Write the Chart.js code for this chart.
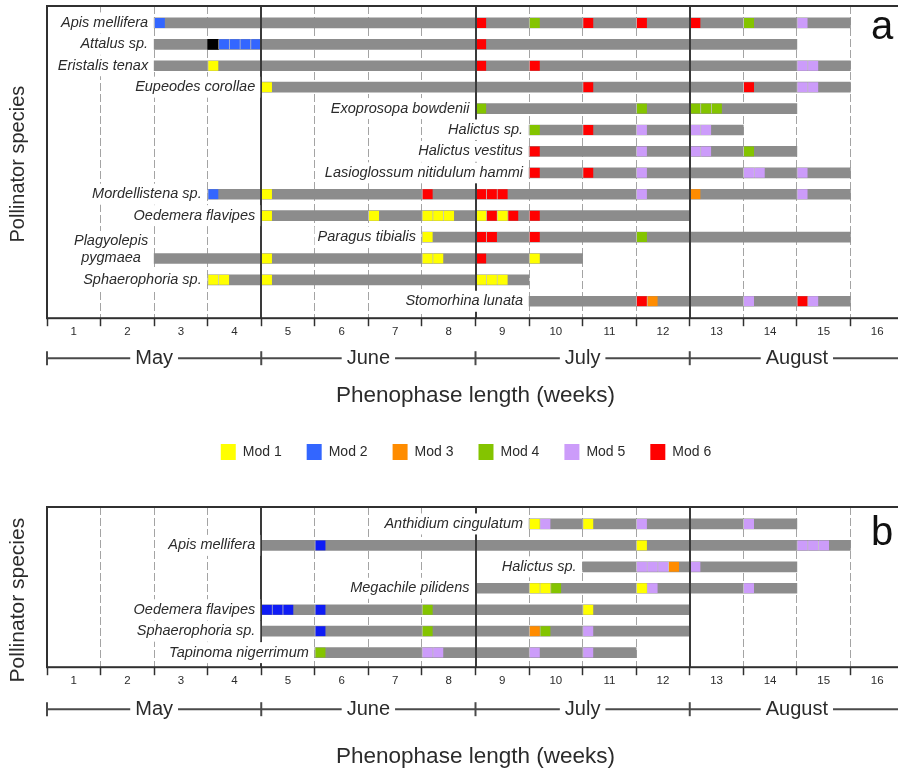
<!DOCTYPE html>
<html lang="en">
<head>
<meta charset="utf-8">
<title>Pollinator phenophases</title>
<script src="https://cdn.jsdelivr.net/npm/chart.js@4.4.1/dist/chart.umd.min.js"></script>
<style>
  html, body { margin: 0; padding: 0; background: #fff; width: 898px; height: 776px; overflow: hidden; }
  canvas { position: absolute; left: 0; }
  #panelA { top: 0; }
  #panelB { top: 494px; }
</style>
</head>
<body>
<canvas id="panelA" width="920" height="470"></canvas>
<canvas id="panelB" width="920" height="282"></canvas>
<script>
// ---------- data ----------
const weekLabels = ['1', '2', '3', '4', '5', '6', '7', '8', '9', '10', '11', '12', '13', '14', '15', '16'];
const monthLabels = ['May', 'June', 'July', 'August'];
const modLabels = ['Mod 1', 'Mod 2', 'Mod 3', 'Mod 4', 'Mod 5', 'Mod 6'];

// Network a: species, activity period [from week, to week], and module cells [day (5 per week), module; 0 = unassigned]
const speciesA = ['Apis mellifera', 'Attalus sp.', 'Eristalis tenax', 'Eupeodes corollae', 'Exoprosopa bowdenii',
  'Halictus sp.', 'Halictus vestitus', 'Lasioglossum nitidulum hammi', 'Mordellistena sp.', 'Oedemera flavipes',
  'Paragus tibialis', 'Plagyolepis\npygmaea', 'Sphaerophoria sp.', 'Stomorhina lunata'];
const periodA = [[2, 15], [2, 14], [2, 15], [4, 15], [8, 14], [9, 13], [9, 14], [9, 15], [3, 15], [4, 12], [7, 15], [2, 10], [3, 9], [9, 15]];
const cellsA = [
  [[10, 2], [40, 6], [45, 4], [50, 6], [55, 6], [60, 6], [65, 4], [70, 5]],
  [[15, 0], [16, 2], [17, 2], [18, 2], [19, 2], [40, 6]],
  [[15, 1], [40, 6], [45, 6], [70, 5], [71, 5]],
  [[20, 1], [50, 6], [65, 6], [70, 5], [71, 5]],
  [[40, 4], [55, 4], [60, 4], [61, 4], [62, 4]],
  [[45, 4], [50, 6], [55, 5], [60, 5], [61, 5]],
  [[45, 6], [55, 5], [60, 5], [61, 5], [65, 4]],
  [[45, 6], [50, 6], [55, 5], [65, 5], [66, 5], [70, 5]],
  [[15, 2], [20, 1], [35, 6], [40, 6], [41, 6], [42, 6], [55, 5], [60, 3], [70, 5]],
  [[20, 1], [30, 1], [35, 1], [36, 1], [37, 1], [40, 1], [41, 6], [42, 1], [43, 6], [45, 6]],
  [[35, 1], [40, 6], [41, 6], [45, 6], [55, 4]],
  [[20, 1], [35, 1], [36, 1], [40, 6], [45, 1]],
  [[15, 1], [16, 1], [20, 1], [40, 1], [41, 1], [42, 1]],
  [[55, 6], [56, 3], [65, 5], [70, 6], [71, 5]]
];

// Network b
const speciesB = ['Anthidium cingulatum', 'Apis mellifera', 'Halictus sp.', 'Megachile pilidens',
  'Oedemera flavipes', 'Sphaerophoria sp.', 'Tapinoma nigerrimum'];
const periodB = [[9, 14], [4, 15], [10, 14], [8, 14], [4, 12], [4, 12], [5, 11]];
const cellsB = [
  [[45, 1], [46, 5], [50, 1], [55, 5], [65, 5]],
  [[25, 2], [55, 1], [70, 5], [71, 5], [72, 5]],
  [[55, 5], [56, 5], [57, 5], [58, 3], [60, 5]],
  [[45, 1], [46, 1], [47, 4], [55, 1], [56, 5], [65, 5]],
  [[20, 2], [21, 2], [22, 2], [25, 2], [35, 4], [50, 1]],
  [[25, 2], [35, 4], [45, 3], [46, 4], [50, 5]],
  [[25, 4], [35, 5], [36, 5], [45, 5], [50, 5]]
];

// ---------- styling ----------
const FAMILY = '"Liberation Sans", Arial, Helvetica, sans-serif';
const INK = '#2b2b2b';
const colorsA = ['#ffff00', '#3366ff', '#ff8c00', '#84c400', '#cc9cfa', '#ff0000'];
const colorsB = ['#ffff00', '#0f1cf5', '#ff8c00', '#84c400', '#cc9cfa', '#ff0000'];
const DAYS_PER_WEEK = 5;

Chart.defaults.font.family = FAMILY;

function buildDatasets(periods, cells, colors) {
  const sets = modLabels.map((label, m) => ({
    label, backgroundColor: colors[m], borderColor: 'rgba(255,255,255,0.45)',
    borderWidth: { left: 1, right: 0, top: 0, bottom: 0 }, borderSkipped: false, order: 0, data: []
  }));
  sets.push({ label: 'Unassigned', backgroundColor: '#000', borderWidth: 0, order: 0, data: [] });
  cells.forEach((row, i) => row.forEach(([day, mod]) => {
    const target = mod === 0 ? sets[6] : sets[mod - 1];
    target.data.push({ x: [day / DAYS_PER_WEEK, (day + 1) / DAYS_PER_WEEK], y: i });
  }));
  sets.push({
    label: 'Activity period', backgroundColor: '#8c8c8c', borderWidth: 0, order: 1,
    data: periods.map((p, i) => ({ x: p, y: i }))
  });
  return sets;
}

// Species names on white plates, axis title, month strip, frame and panel letter
const framePlugin = {
  id: 'frame',
  afterLayout(chart, _args, o) {
    if (chart.legend && o.legendShift) {
      chart.legend.left += o.legendShift;
      chart.legend.right += o.legendShift;
    }
  },
  afterDraw(chart, _args, o) {
    const { ctx, chartArea: ca, scales: { x, y } } = chart;
    ctx.save();

    ctx.font = 'italic 14.5px ' + FAMILY;
    ctx.textBaseline = 'middle';
    o.names.forEach((name, i) => {
      const lines = name.split('\n');
      const barStart = x.getPixelForValue(o.periods[i][0]);
      const right = barStart - 6;
      const yc = y.getPixelForValue(i);
      const w = Math.max(...lines.map(l => ctx.measureText(l).width));
      const lh = 17;
      const top = yc - 10.5 - (lines.length - 1) * lh;
      ctx.fillStyle = '#fff';
      ctx.fillRect(right - w - 3, top, w + 3 + (barStart - right) - 1, 21 + (lines.length - 1) * lh);
      ctx.fillStyle = INK;
      lines.forEach((l, k) => {
        const ly = yc - (lines.length - 1 - k) * lh;
        if (lines.length === 1) { ctx.textAlign = 'right'; ctx.fillText(l, right, ly); }
        else { ctx.textAlign = 'center'; ctx.fillText(l, right - w / 2, ly); }
      });
    });

    // vertical axis title
    ctx.save();
    ctx.translate(18, (ca.top + ca.bottom) / 2 + o.yTitleShift);
    ctx.rotate(-Math.PI / 2);
    ctx.font = o.yTitleSize + 'px ' + FAMILY;
    ctx.textAlign = 'center';
    ctx.textBaseline = 'middle';
    ctx.fillStyle = INK;
    ctx.fillText(o.yTitle, 0, 0);
    ctx.restore();

    // month strip
    const my = ca.bottom + o.monthGap;
    ctx.font = '20px ' + FAMILY;
    ctx.textAlign = 'center';
    ctx.strokeStyle = '#4a4a4a';
    ctx.lineWidth = 2;
    const seg = (x0, y0, x1, y1) => { ctx.beginPath(); ctx.moveTo(x0, y0); ctx.lineTo(x1, y1); ctx.stroke(); };
    monthLabels.forEach((m, k) => {
      const x0 = x.getPixelForValue(k * 4);
      const x1 = x.getPixelForValue(k * 4 + 4);
      const xc = x.getPixelForValue(k * 4 + 2);
      const half = ctx.measureText(m).width / 2 + 5;
      seg(x0, my, xc - half, my);
      seg(xc + half, my, x1, my);
      ctx.fillStyle = INK;
      ctx.fillText(m, xc, my);
    });
    for (let k = 0; k <= monthLabels.length; k++) {
      const xm = x.getPixelForValue(k * 4);
      seg(xm, my - 7, xm, my + 7);
    }

    // frame
    ctx.strokeStyle = '#303030';
    ctx.lineWidth = 2;
    ctx.strokeRect(ca.left, ca.top, ca.right - ca.left, ca.bottom - ca.top);

    // panel letter
    ctx.font = '40px ' + FAMILY;
    ctx.fillStyle = '#111';
    ctx.textAlign = 'center';
    ctx.textBaseline = 'alphabetic';
    ctx.fillText(o.letter, ca.right - 22, ca.top + o.letterDrop);
    ctx.restore();
  }
};

function makePanel(canvasId, names, periods, cells, colors, cfg) {
  const n = names.length;
  return new Chart(document.getElementById(canvasId), {
    type: 'bar',
    data: { datasets: buildDatasets(periods, cells, colors) },
    plugins: [framePlugin],
    options: {
      indexAxis: 'y',
      responsive: false,
      devicePixelRatio: 1,
      animation: false,
      events: [],
      layout: { padding: { top: cfg.padTop, right: 16, left: 0, bottom: 0 } },
      datasets: { bar: { grouped: false, barThickness: 10 } },
      scales: {
        x: {
          type: 'linear', min: 0, max: weekLabels.length, offset: false,
          afterBuildTicks: s => { s.ticks = weekLabels.map((_, i) => ({ value: i })).concat([{ value: weekLabels.length }]); },
          ticks: {
            autoSkip: false, maxRotation: 0, padding: -1,
            labelOffset: cfg.weekPx / 2,
            callback: (v, i) => weekLabels[i] ?? '',
            font: { size: 11.5 }, color: INK
          },
          grid: {
            color: c => (c.tick && c.tick.value % 4 === 0) ? 'rgba(0,0,0,0)' : '#a4a4a4',
            lineWidth: 1, tickColor: '#303030', tickWidth: 1.5, tickLength: 8
          },
          border: { display: false, dash: [8, 3] },
          title: {
            display: true, text: 'Phenophase length (weeks)', color: INK,
            font: { size: 22.5 }, padding: { top: cfg.titleTop, bottom: cfg.titleBottom }
          }
        },
        months: {
          type: 'linear', position: 'bottom', min: 0, max: weekLabels.length, offset: false,
          afterBuildTicks: s => { s.ticks = [4, 8, 12].map(v => ({ value: v })); },
          afterFit: s => { s.height = 0; },
          ticks: { display: false },
          grid: { color: '#3a3a3a', lineWidth: 2, drawTicks: false, z: 1 },
          border: { display: false }
        },
        y: {
          type: 'linear', reverse: true, offset: false, min: -cfg.edgeTop, max: n - 1 + cfg.edgeBottom,
          ticks: { display: false },
          grid: { display: false, offset: false },
          border: { display: false },
          afterFit: s => { s.width = 47; }
        }
      },
      plugins: {
        tooltip: { enabled: false },
        legend: cfg.legend ? {
          display: true, position: 'bottom',
          labels: {
            boxWidth: 15, boxHeight: 16, padding: 25, color: INK, font: { size: 14 },
            generateLabels: ch => Chart.defaults.plugins.legend.labels.generateLabels(ch)
              .filter(it => it.datasetIndex < modLabels.length)
              .map(it => Object.assign(it, { lineWidth: 0 }))
          }
        } : { display: false },
        frame: {
          names, periods, monthGap: cfg.monthGap, letter: cfg.letter, letterDrop: cfg.letterDrop,
          legendShift: cfg.legendShift, yTitle: 'Pollinator species', yTitleSize: cfg.yTitleSize,
          yTitleShift: cfg.yTitleShift
        }
      }
    }
  });
}

const WEEK_PX = (904 - 47) / weekLabels.length;

makePanel('panelA', speciesA, periodA, cellsA, colorsA, {
  padTop: 6, edgeTop: 0.79, edgeBottom: 0.79, weekPx: WEEK_PX, titleTop: 44, titleBottom: 10,
  monthGap: 40, letter: 'a', letterDrop: 33, legend: true, legendShift: 14,
  yTitleSize: 20, yTitleShift: 2
});
makePanel('panelB', speciesB, periodB, cellsB, colorsB, {
  padTop: 13, edgeTop: 0.79, edgeBottom: 0.68, weekPx: WEEK_PX, titleTop: 56, titleBottom: 6,
  monthGap: 42, letter: 'b', letterDrop: 38, legend: false, legendShift: 0,
  yTitleSize: 21, yTitleShift: 13
});
</script>
</body>
</html>
